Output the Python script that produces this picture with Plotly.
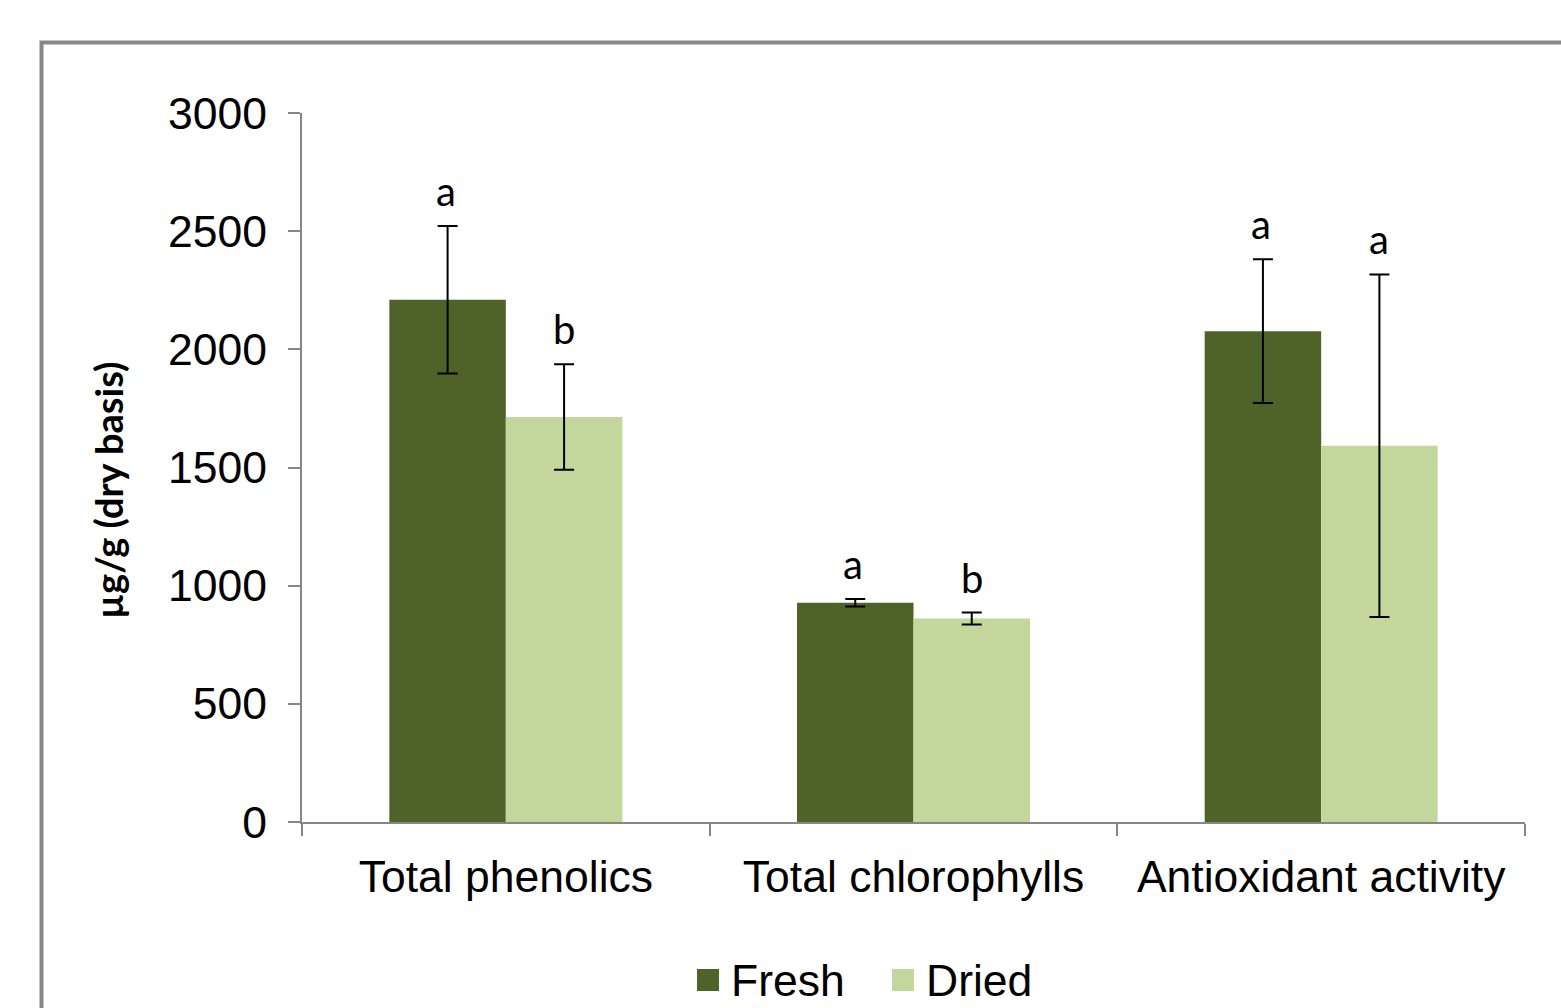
import plotly.graph_objects as go

categories = ["Total phenolics", "Total chlorophylls", "Antioxidant activity"]
fresh = [2210, 928, 2077]
fresh_err = [312, 16, 304]
dried = [1714, 861, 1592]
dried_err = [223, 25, 725]
fresh_letters = ["a", "a", "a"]
dried_letters = ["b", "b", "a"]
yticks = [0, 500, 1000, 1500, 2000, 2500, 3000]
series_names = ["Fresh", "Dried"]

FRESH_C = "#4F6228"
DRIED_C = "#C3D69B"
AXIS_C = "#868686"
TXT_FONT = "Liberation Sans, Arial"
FS = 44.5

fig = go.Figure()
fig.add_trace(go.Bar(
    name=series_names[0], x=categories, y=fresh, marker=dict(color=FRESH_C, line=dict(width=0)),
    error_y=dict(type="data", array=fresh_err, visible=True, color="black", thickness=2, width=10),
))
fig.add_trace(go.Bar(
    name=series_names[1], x=categories, y=dried, marker=dict(color=DRIED_C, line=dict(width=0)),
    error_y=dict(type="data", array=dried_err, visible=True, color="black", thickness=2, width=10),
))

L, R, T, B = 302, 36, 113, 186
W, H = 1561, 1008
pw, ph = W - L - R, H - T - B
bar_px = pw / 3 * (1 - 0.4285) / 2


def px_x(p):
    return (p - L) / pw


def px_y(p):
    return (H - B - p) / ph


annos = []
for i, c in enumerate(categories):
    annos.append(dict(x=c, y=fresh[i] + fresh_err[i], xref="x", yref="y", text=fresh_letters[i],
                      showarrow=False, xshift=-bar_px / 2 - 2, yanchor="bottom", yshift=9,
                      font=dict(family="Lato", size=40, color="black")))
    annos.append(dict(x=c, y=dried[i] + dried_err[i], xref="x", yref="y", text=dried_letters[i],
                      showarrow=False, xshift=bar_px / 2, yanchor="bottom", yshift=9,
                      font=dict(family="Lato", size=40, color="black")))

annos.append(dict(x=px_x(108), y=px_y(491), xref="paper", yref="paper",
                  text="<b>µg/g (dry basis)</b>", textangle=-90, showarrow=False,
                  xanchor="center", yanchor="middle",
                  font=dict(family="Lato", size=38, color="black")))

# legend (drawn manually to match the large swatches at the bottom)
shapes = [dict(type="rect", xref="paper", yref="paper",
               x0=px_x(41.5), x1=1.3, y0=-0.5, y1=px_y(42.5),
               line=dict(color="#888888", width=4), fillcolor="rgba(0,0,0,0)", layer="below")]
legend_items = [(series_names[0], FRESH_C, 697), (series_names[1], DRIED_C, 892)]
for name, col, sx in legend_items:
    shapes.append(dict(type="rect", xref="paper", yref="paper",
                       x0=px_x(sx), x1=px_x(sx + 22), y0=px_y(991), y1=px_y(969),
                       line=dict(width=0), fillcolor=col))
    annos.append(dict(x=px_x(sx + 32), y=px_y(980), xref="paper", yref="paper", text=name,
                      showarrow=False, xanchor="left", yanchor="middle",
                      font=dict(family=TXT_FONT, size=FS, color="black")))

fig.update_layout(
    width=W, height=H,
    margin=dict(l=L, r=R, t=T, b=B, autoexpand=False),
    paper_bgcolor="white", plot_bgcolor="white",
    barmode="group", bargap=0.4285, bargroupgap=0,
    font=dict(family=TXT_FONT, size=FS, color="black"),
    showlegend=False,
    annotations=annos,
    shapes=shapes,
)
fig.update_xaxes(
    showline=True, linecolor=AXIS_C, linewidth=2, ticks="outside", tickson="boundaries",
    ticklen=12, tickcolor=AXIS_C, tickwidth=2, showgrid=False, zeroline=False,
    tickfont=dict(family=TXT_FONT, size=FS, color="black"), ticklabelstandoff=15,
)
fig.update_yaxes(
    range=[0, 3000], tickvals=yticks, showline=True, linecolor=AXIS_C, linewidth=2,
    ticks="outside", ticklen=12, tickcolor=AXIS_C, tickwidth=2, showgrid=False, zeroline=False,
    tickfont=dict(family=TXT_FONT, size=FS, color="black"), ticklabelstandoff=12,
)

fig.write_html("out.html", config={"displayModeBar": False},
               post_script="document.body.style.margin='0';document.body.style.overflow='hidden';")
